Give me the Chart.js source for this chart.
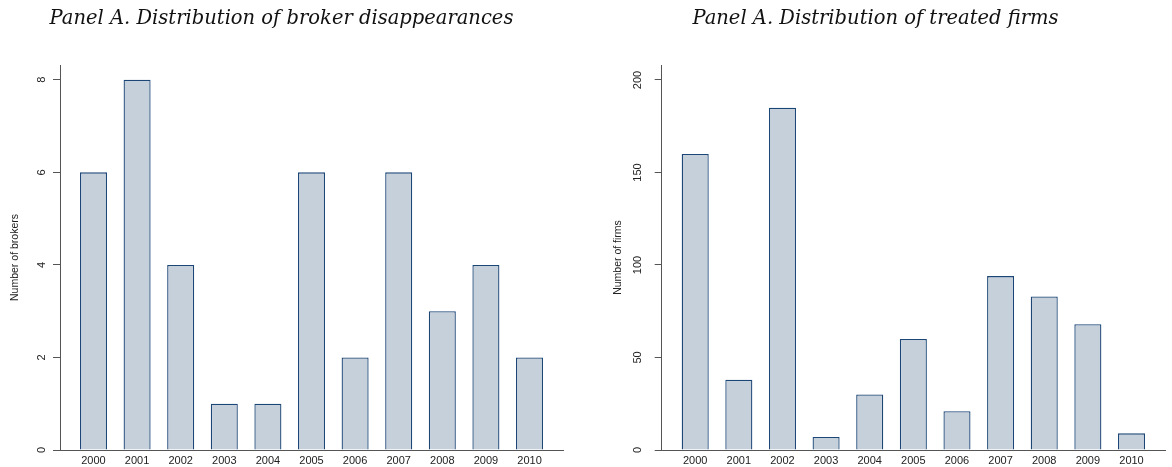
<!DOCTYPE html>
<html>
<head>
<meta charset="utf-8">
<script src="https://cdn.jsdelivr.net/npm/chart.js@4.4.1/dist/chart.umd.min.js"></script>
<style>
  html, body { margin: 0; padding: 0; background: #fff; }
  .panel { position: absolute; top: 0; width: 586px; height: 467px; }
  #boxLeft { left: 0; }
  #boxRight { left: 586px; }
</style>
</head>
<body>
<div class="panel" id="boxLeft"><canvas id="chartBrokers"></canvas></div>
<div class="panel" id="boxRight"><canvas id="chartFirms"></canvas></div>
<script>
// Datos
const years = [2000, 2001, 2002, 2003, 2004, 2005, 2006, 2007, 2008, 2009, 2010];
const brokers = [6, 8, 4, 1, 1, 6, 2, 6, 3, 4, 2];
const firms = [160, 38, 185, 7, 30, 60, 21, 94, 83, 68, 9];
const brokerTicks = [0, 2, 4, 6, 8];
const firmTicks = [0, 50, 100, 150, 200];

const fillColor = '#c6d0db';
const edgeColor = '#1c4676';
const axisColor = '#555555';

function buildChart(canvasId, titleText, yTitle, values, yTicks, yMax, yWidth, titlePad, rightPad) {
    const ctx = document.getElementById(canvasId).getContext('2d');
    return new Chart(ctx, {
        type: 'bar',
        data: {
            datasets: [{
                data: years.map((y, i) => ({ x: y, y: values[i] })),
                backgroundColor: fillColor,
                borderColor: edgeColor,
                borderWidth: 1.3,
                categoryPercentage: 1,
                barPercentage: 0.62
            }]
        },
        options: {
            responsive: true,
            maintainAspectRatio: false,
            animation: false,
            layout: { padding: { left: 0, right: rightPad, top: 0, bottom: 0 } },
            plugins: {
                legend: { display: false },
                tooltip: { enabled: false },
                title: {
                    display: true,
                    text: titleText,
                    color: '#111',
                    font: { family: 'DejaVu Serif', size: 19.5, style: 'italic', weight: 'normal' },
                    padding: { top: 7, bottom: 34.6 }
                }
            },
            scales: {
                x: {
                    type: 'linear',
                    offset: false,
                    min: 1999.232,
                    max: 2010.768,
                    afterBuildTicks: s => { s.ticks = years.map(v => ({ value: v })); },
                    afterFit: s => { s.height = 17; },
                    grid: { display: false, drawTicks: false },
                    border: { display: true, color: axisColor, width: 1 },
                    ticks: {
                        color: '#222',
                        padding: 4,
                        maxRotation: 0,
                        autoSkip: false,
                        font: { family: 'Liberation Sans', size: 11 },
                        callback: v => String(v)
                    }
                },
                y: {
                    min: 0,
                    max: yMax,
                    afterBuildTicks: s => { s.ticks = yTicks.map(v => ({ value: v })); },
                    afterFit: s => { s.width = yWidth; },
                    grid: { display: true, drawOnChartArea: false, drawTicks: true, tickLength: 7, color: axisColor },
                    border: { display: true, color: axisColor, width: 1 },
                    ticks: {
                        color: '#222',
                        padding: 8,
                        minRotation: 90,
                        maxRotation: 90,
                        crossAlign: 'center',
                        font: { family: 'Liberation Sans', size: 11 }
                    },
                    title: {
                        display: true,
                        text: yTitle,
                        color: '#222',
                        font: { family: 'Liberation Sans', size: 10.5 },
                        padding: { top: titlePad, bottom: 0 }
                    }
                }
            }
        }
    });
}

buildChart('chartBrokers', 'Panel A. Distribution of broker disappearances', 'Number of brokers',
    brokers, brokerTicks, 8.32, 60, 9, 23);
buildChart('chartFirms', 'Panel A. Distribution of treated firms', 'Number of firms',
    firms, firmTicks, 208.1, 75.7, 26, 7);
</script>
</body>
</html>
